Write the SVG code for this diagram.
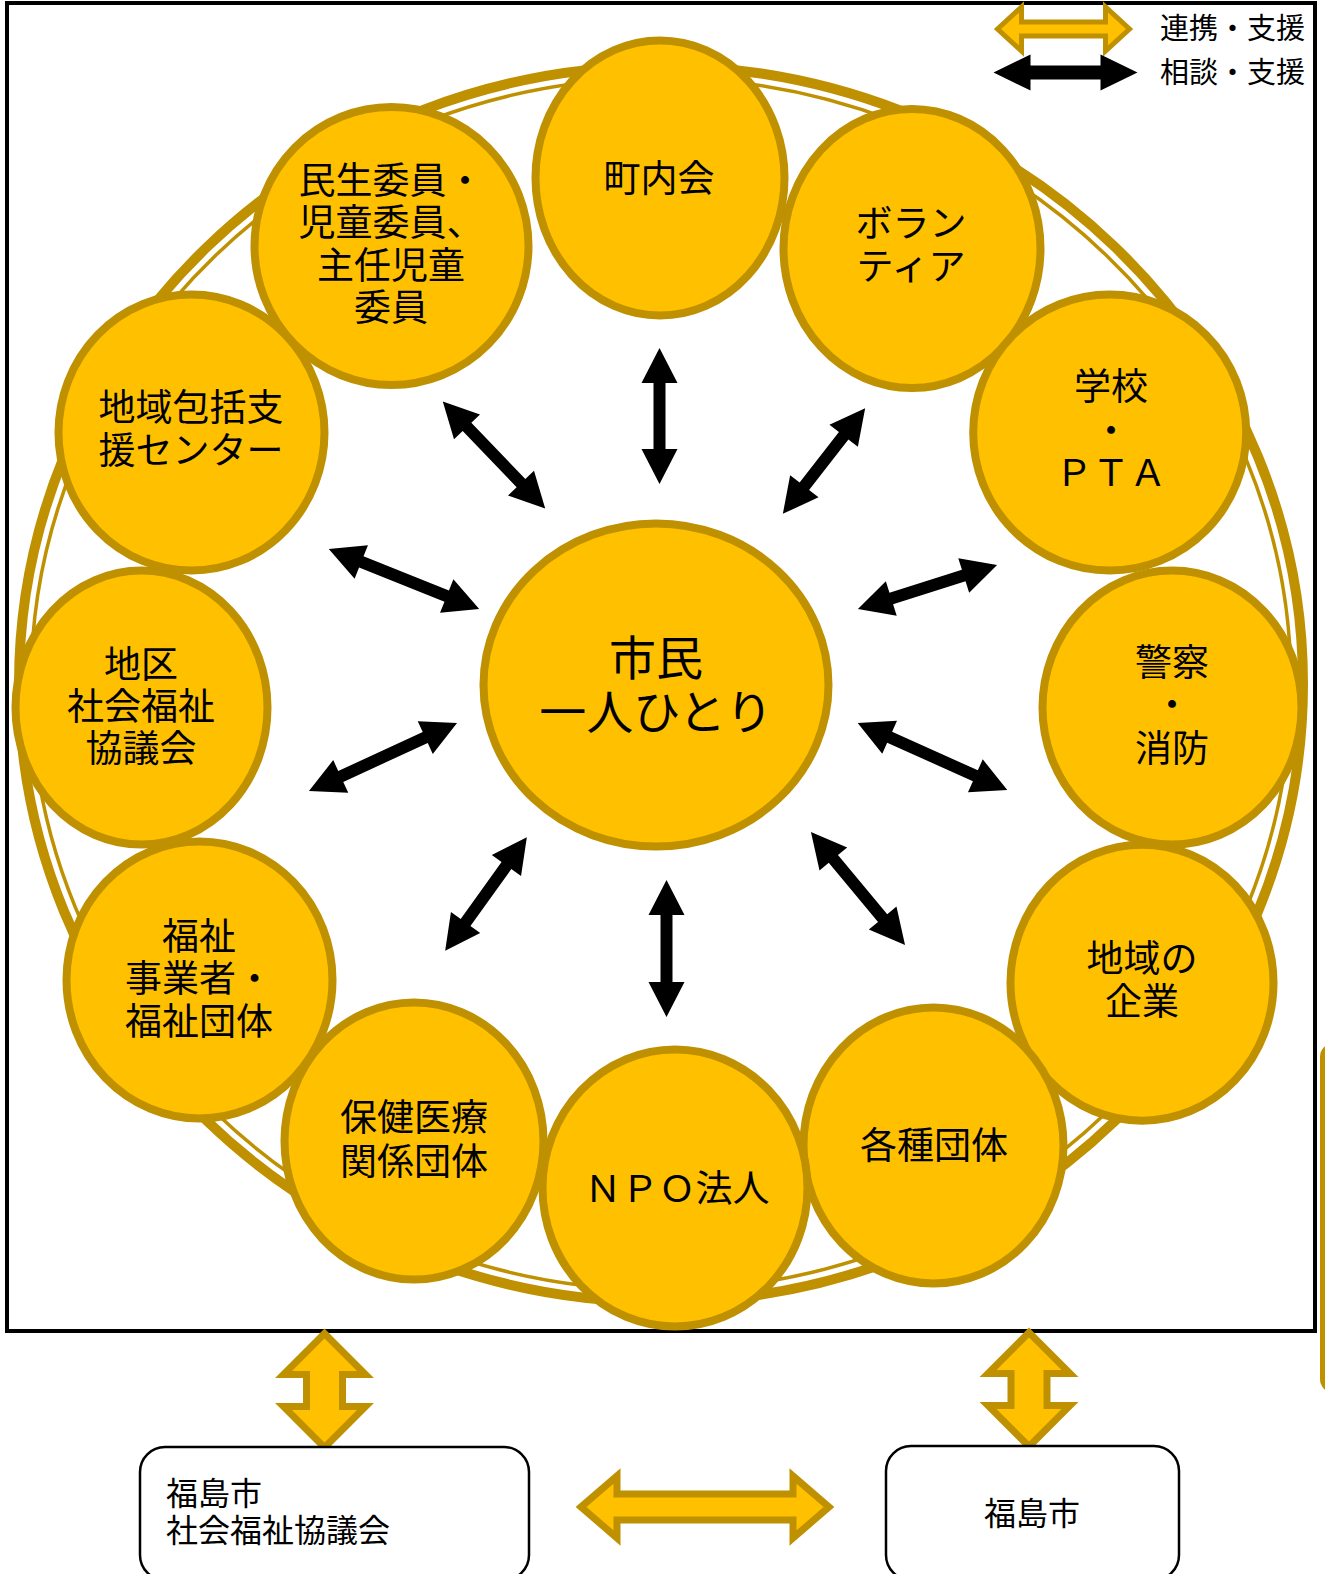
<svg xmlns="http://www.w3.org/2000/svg" width="1325" height="1574" viewBox="0 0 1325 1574">
<style>
.n{fill:#FFC000;stroke:#BF9000;stroke-width:8}
.t{font-family:"Noto Sans CJK JP","Noto Sans",sans-serif;font-size:37px;fill:#000;text-anchor:middle}
.ba{fill:#000}
.ga{fill:#FFC000;stroke:#BF9000;stroke-width:7;stroke-linejoin:miter}
.box{fill:#fff;stroke:#000;stroke-width:2.5}
.lg{font-family:"Noto Sans CJK JP","Noto Sans",sans-serif;font-size:29px;fill:#000}
.bt{font-family:"Noto Sans CJK JP","Noto Sans",sans-serif;font-size:32px;fill:#000}
</style>
<rect x="0" y="0" width="1325" height="1574" fill="#fff"/>
<rect x="7" y="3" width="1308" height="1328" fill="#fff" stroke="#000" stroke-width="4"/>
<rect x="1320" y="1043" width="30" height="350" rx="14" fill="#BF9000"/>
<g id="ring">
<ellipse cx="661" cy="684" rx="642" ry="618" fill="none" stroke="#BF9000" stroke-width="10"/>
<ellipse cx="661" cy="684" rx="630" ry="606" fill="none" stroke="#BF9000" stroke-width="3.5"/>
</g>
<g id="legend">
<polygon class="ga" style="stroke-width:5" transform="translate(1063.5,29)" points="-66,0 -42,-22 -42,-7 42,-7 42,-22 66,0 42,22 42,7 -42,7 -42,22"/>
<polygon class="ba" transform="translate(1065.5,72.5)" points="-72,0 -35,-18 -35,-7 35,-7 35,-18 72,0 35,18 35,7 -35,7 -35,18"/>
<text class="lg" x="1160" y="39">連携・支援</text>
<text class="lg" x="1160" y="83">相談・支援</text>
</g>
<g id="n-minsei"><ellipse class="n" cx="391.5" cy="246" rx="137" ry="139"/>
<text class="t" x="391" y="194">民生委員・</text><text class="t" x="391" y="236">児童委員、</text><text class="t" x="391" y="279">主任児童</text><text class="t" x="391" y="321">委員</text></g>
<g id="n-chonaikai"><ellipse class="n" cx="660" cy="178" rx="124.5" ry="137.5"/>
<text class="t" x="659" y="192">町内会</text></g>
<g id="n-volunteer"><ellipse class="n" cx="912" cy="248.5" rx="128.5" ry="139.5"/>
<text class="t" x="911" y="237">ボラン</text><text class="t" x="911" y="280">ティア</text></g>
<g id="n-school"><ellipse class="n" cx="1109.7" cy="432.6" rx="136.5" ry="138"/>
<text class="t" x="1111" y="400">学校</text><text class="t" x="1111" y="444">・</text><text class="t" x="1111" y="486">ＰＴＡ</text></g>
<g id="n-police"><ellipse class="n" cx="1172" cy="707.6" rx="129.5" ry="137"/>
<text class="t" x="1172" y="676">警察</text><text class="t" x="1172" y="718">・</text><text class="t" x="1172" y="762">消防</text></g>
<g id="n-kigyo"><ellipse class="n" cx="1142" cy="982.7" rx="131.5" ry="138"/>
<text class="t" x="1142" y="972">地域の</text><text class="t" x="1142" y="1015">企業</text></g>
<g id="n-kakushu"><ellipse class="n" cx="933.5" cy="1145.5" rx="130" ry="138"/>
<text class="t" x="934" y="1159">各種団体</text></g>
<g id="n-npo"><ellipse class="n" cx="675" cy="1188" rx="132.5" ry="138.5"/>
<text class="t" x="677" y="1202">ＮＰＯ法人</text></g>
<g id="n-hoken"><ellipse class="n" cx="414" cy="1141" rx="129.5" ry="138.5"/>
<text class="t" x="414" y="1131">保健医療</text><text class="t" x="414" y="1175">関係団体</text></g>
<g id="n-fukushi"><ellipse class="n" cx="199.5" cy="980" rx="133" ry="138.5"/>
<text class="t" x="199" y="950">福祉</text><text class="t" x="199" y="992">事業者・</text><text class="t" x="199" y="1035">福祉団体</text></g>
<g id="n-chiku"><ellipse class="n" cx="141.5" cy="707.6" rx="126" ry="137"/>
<text class="t" x="141" y="678">地区</text><text class="t" x="141" y="720">社会福祉</text><text class="t" x="141" y="762">協議会</text></g>
<g id="n-houkatsu"><ellipse class="n" cx="191.5" cy="432.6" rx="133" ry="138"/>
<text class="t" x="191" y="421">地域包括支</text><text class="t" x="191" y="464">援センター</text></g>
<g id="n-center"><ellipse class="n" cx="656" cy="685" rx="172.5" ry="161.5"/>
<text class="t" style="font-size:47px" x="656" y="675">市民</text><text class="t" style="font-size:47px" x="656" y="729">一人ひとり</text></g>
<g id="connectors">
<polygon class="ba" transform="translate(659.5,416) rotate(90)" points="-68,0 -33,-18 -33,-6 33,-6 33,-18 68,0 33,18 33,6 -33,6 -33,18"/>
<polygon class="ba" transform="translate(494,455) rotate(46.2)" points="-74,0 -39,-18 -39,-6 39,-6 39,-18 74,0 39,18 39,6 -39,6 -39,18"/>
<polygon class="ba" transform="translate(824,461) rotate(127.9)" points="-67,0 -32,-18 -32,-6 32,-6 32,-18 67,0 32,18 32,6 -32,6 -32,18"/>
<polygon class="ba" transform="translate(404,579) rotate(21.8)" points="-81,0 -46,-18 -46,-6 46,-6 46,-18 81,0 46,18 46,6 -46,6 -46,18"/>
<polygon class="ba" transform="translate(927.5,587) rotate(-17.6)" points="-73,0 -38,-18 -38,-6 38,-6 38,-18 73,0 38,18 38,6 -38,6 -38,18"/>
<polygon class="ba" transform="translate(383,757) rotate(-24.7)" points="-81.5,0 -46.5,-18 -46.5,-6 46.5,-6 46.5,-18 81.5,0 46.5,18 46.5,6 -46.5,6 -46.5,18"/>
<polygon class="ba" transform="translate(932.5,756.5) rotate(24.2)" points="-82,0 -47,-18 -47,-6 47,-6 47,-18 82,0 47,18 47,6 -47,6 -47,18"/>
<polygon class="ba" transform="translate(486,894) rotate(-54.3)" points="-70,0 -35,-18 -35,-6 35,-6 35,-18 70,0 35,18 35,6 -35,6 -35,18"/>
<polygon class="ba" transform="translate(666.5,948.5) rotate(90)" points="-68.5,0 -33.5,-18 -33.5,-6 33.5,-6 33.5,-18 68.5,0 33.5,18 33.5,6 -33.5,6 -33.5,18"/>
<polygon class="ba" transform="translate(858,888.5) rotate(50.2)" points="-73.5,0 -38.5,-18 -38.5,-6 38.5,-6 38.5,-18 73.5,0 38.5,18 38.5,6 -38.5,6 -38.5,18"/>
<polygon class="ga" transform="translate(324.5,1390.5)" points="0,-57 41,-16 18,-16 18,16 41,16 0,57 -41,16 -18,16 -18,-16 -41,-16"/>
<polygon class="ga" transform="translate(1029,1389.5)" points="0,-57 41,-16 18,-16 18,16 41,16 0,57 -41,16 -18,16 -18,-16 -41,-16"/>
<polygon class="ga" transform="translate(705,1507)" points="-124,0 -88,-31 -88,-13 88,-13 88,-31 124,0 88,31 88,13 -88,13 -88,31"/>
</g>
<g id="n-shakyo"><rect class="box" x="140" y="1447" width="389" height="133" rx="25"/>
<text class="bt" x="166" y="1505">福島市</text><text class="bt" x="166" y="1542">社会福祉協議会</text></g>
<g id="n-city"><rect class="box" x="886" y="1446" width="293" height="134" rx="25"/>
<text class="bt" x="1032" y="1525" text-anchor="middle">福島市</text></g>
</svg>
